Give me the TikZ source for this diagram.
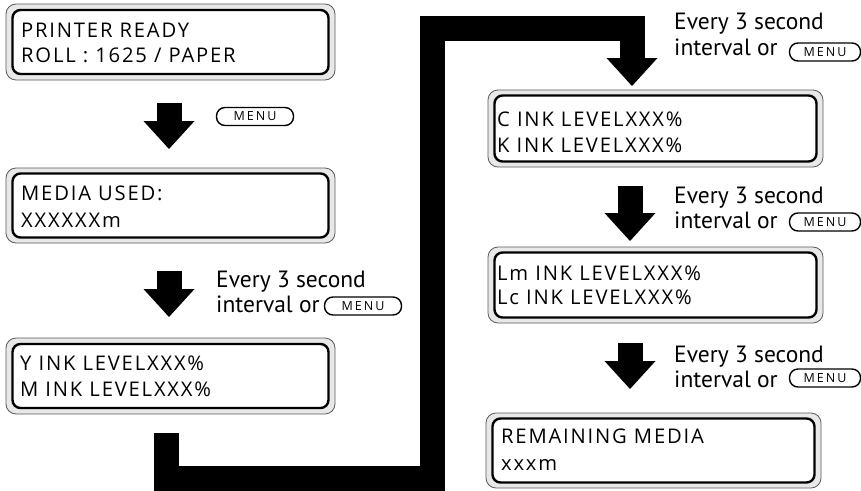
\documentclass[tikz,border=0pt]{standalone}
\usepackage{fontspec}
\setmainfont{PT Sans}
\newfontfamily\lcdfont[LetterSpace=9]{Open Sans}
\newfontfamily\menufont[LetterSpace=16]{Open Sans}
\usetikzlibrary{arrows.meta}
\begin{document}
\begin{tikzpicture}[x=1pt,y=-1pt,
 outerbox/.style={draw=black!65, line width=0.8pt, fill=black!9, rounded corners=10pt, inner sep=0pt},
 innerbox/.style={draw=black, line width=2.4pt, fill=white, rounded corners=8pt, inner sep=0pt},
 lcd/.style={anchor=base west, inner sep=0pt, font=\lcdfont\fontsize{20.2}{22}\selectfont},
 note/.style={anchor=base west, inner sep=0pt, font=\fontsize{23.5}{26}\selectfont},
 menubtn/.style={draw, line width=1.4pt, rounded corners=8.5pt, minimum width=77pt, minimum height=18pt, inner sep=0pt, font=\menufont\fontsize{12.5}{14}\selectfont},
 fat/.style={line width=25pt, line cap=butt, line join=miter, -{Triangle[width=51pt,length=28pt,line width=0pt]}},
]
\useasboundingbox (0,0) rectangle (861,490);

% ---- boxes ----
\node[outerbox, minimum width=329pt, minimum height=76pt] (b1) at (170.5,42) {};
\node[innerbox, minimum width=316pt, minimum height=64pt] (b1in) at (b1.center) {};
\node[lcd] (b1l1) at (21,37) {PRINTER READY};
\node[lcd] (b1l2) at (21,62) {ROLL : 1625 / PAPER};

\node[outerbox, minimum width=329pt, minimum height=75pt] (b2) at (170.5,205.5) {};
\node[innerbox, minimum width=316pt, minimum height=64pt] (b2in) at (b2.center) {};
\node[lcd] (b2l1) at (21,200) {MEDIA USED:};
\node[lcd] (b2l2) at (21,227) {XXXXXXm};

\node[outerbox, minimum width=329pt, minimum height=76pt] (b3) at (170.5,376) {};
\node[innerbox, minimum width=316pt, minimum height=64pt] (b3in) at (b3.center) {};
\node[lcd] (b3l1) at (20,370) {Y INK LEVELXXX\%};
\node[lcd] (b3l2) at (20,396) {M INK LEVELXXX\%};

\node[outerbox, minimum width=335pt, minimum height=77pt] (b4) at (655.5,128.5) {};
\node[innerbox, minimum width=322pt, minimum height=66pt] (b4in) at (b4.center) {};
\node[lcd] (b4l1) at (497,126) {C INK LEVELXXX\%};
\node[lcd] (b4l2) at (497,152) {K INK LEVELXXX\%};

\node[outerbox, minimum width=335pt, minimum height=76pt] (b5) at (655.5,285) {};
\node[innerbox, minimum width=322pt, minimum height=65pt] (b5in) at (b5.center) {};
\node[lcd] (b5l1) at (497,280) {Lm INK LEVELXXX\%};
\node[lcd] (b5l2) at (497,304) {Lc INK LEVELXXX\%};

\node[outerbox, minimum width=335pt, minimum height=75pt] (b6) at (653.5,450.5) {};
\node[innerbox, minimum width=322pt, minimum height=64pt] (b6in) at (b6.center) {};
\node[lcd] (b6l1) at (501,443) {REMAINING MEDIA};
\node[lcd] (b6l2) at (501,470) {xxxm};

% ---- notes ----
\node[menubtn] (m1) at (255,116.5) {MENU};

\node[note] (n2a) at (216,287) {Every 3 second};
\node[note] (n2b) at (216,312) {interval or};
\node[menubtn] (m2) at (363,306) {MENU};

\node[note] (n4a) at (674,29) {Every 3 second};
\node[note] (n4b) at (674,55) {interval or};
\node[menubtn, minimum width=71pt] (m4) at (825,52) {MENU};

\node[note] (n5a) at (674,203) {Every 3 second};
\node[note] (n5b) at (674,228) {interval or};
\node[menubtn, minimum width=71pt] (m5) at (825,222) {MENU};

\node[note] (n6a) at (674,362) {Every 3 second};
\node[note] (n6b) at (674,387) {interval or};
\node[menubtn, minimum width=71pt] (m6) at (825,378) {MENU};

% ---- arrows ----
\coordinate (a1s) at (169,103);
\coordinate (a1e) at (169,149);
\draw[fat] (a1s) -- (a1e);
\coordinate (a2s) at (169,271);
\coordinate (a2e) at (169,317);
\draw[fat] (a2s) -- (a2e);
\coordinate (a4s) at (630,186);
\coordinate (a4e) at (630,241);
\draw[fat] (a4s) -- (a4e);
\coordinate (a5s) at (630,343);
\coordinate (a5e) at (630,389);
\draw[fat] (a5s) -- (a5e);

\coordinate (k0) at (166,433);
\coordinate (k1) at (166,478);
\coordinate (k2) at (432,478);
\coordinate (k3) at (432,28);
\coordinate (k4) at (632,28);
\coordinate (k5) at (632,86);
\draw[fat] (k0) -- (k1) -- (k2) -- (k3) -- (k4) -- (k5);
\end{tikzpicture}
\end{document}
